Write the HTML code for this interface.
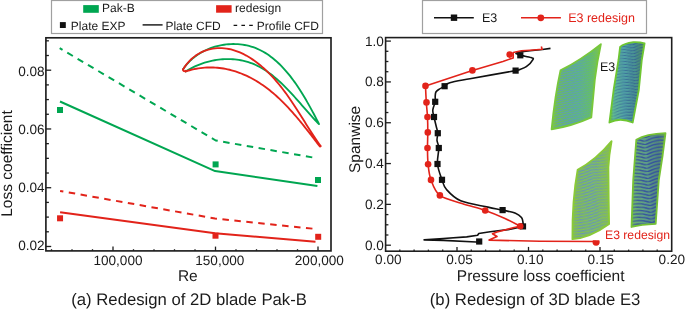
<!DOCTYPE html>
<html><head><meta charset="utf-8"><title>Figure</title>
<style>
html,body{margin:0;padding:0;background:#fff;}
body{width:685px;height:309px;overflow:hidden;}
svg{display:block;font-family:"Liberation Sans",sans-serif;text-rendering:geometricPrecision;-webkit-font-smoothing:antialiased;will-change:transform;}
</style></head><body>
<svg width="685" height="309" viewBox="0 0 685 309">
<rect x="51.5" y="0.5" width="271" height="33" fill="#fff" stroke="#a0a0a0" stroke-width="1.2"/>
<rect x="83.2" y="5.1" width="15.6" height="7.7" fill="#00a651"/>
<text x="102.10" y="12.20" font-size="12" fill="#1a1a1a" text-anchor="start" >Pak-B</text>
<rect x="216.1" y="5.2" width="15.5" height="7.5" fill="#e2231a"/>
<text x="235.10" y="12.20" font-size="12" fill="#1a1a1a" text-anchor="start" >redesign</text>
<rect x="59.9" y="22.1" width="5.9" height="5.9" fill="#111"/>
<text x="70.80" y="29.70" font-size="12" fill="#1a1a1a" text-anchor="start" >Plate EXP</text>
<line x1="142.6" y1="24.9" x2="162.6" y2="24.9" stroke="#111" stroke-width="1.4"/>
<text x="165.40" y="29.70" font-size="12" fill="#1a1a1a" text-anchor="start" >Plate CFD</text>
<line x1="233.6" y1="25.4" x2="254" y2="25.4" stroke="#111" stroke-width="1.4" stroke-dasharray="3.6 4.2"/>
<text x="256.80" y="29.70" font-size="12" fill="#1a1a1a" text-anchor="start" >Profile CFD</text>
<rect x="422.5" y="0.5" width="224" height="33" fill="#fff" stroke="#a0a0a0" stroke-width="1.2"/>
<line x1="434" y1="17.8" x2="473.8" y2="17.8" stroke="#111" stroke-width="1.4"/>
<rect x="450.8" y="14.5" width="6.4" height="6.4" fill="#111"/>
<text x="481.90" y="21.90" font-size="12.5" fill="#1a1a1a" text-anchor="start" >E3</text>
<line x1="521" y1="17.8" x2="560.9" y2="17.8" stroke="#e2231a" stroke-width="1.4"/>
<circle cx="540.8" cy="17.8" r="3.4" fill="#e2231a"/>
<text x="568.20" y="21.90" font-size="12.5" fill="#e2231a" text-anchor="start" >E3 redesign</text>
<g stroke="#1e1e1e" stroke-width="1.3"><line x1="45.90" y1="246.48" x2="51.20" y2="246.48"/><line x1="45.90" y1="231.79" x2="48.90" y2="231.79"/><line x1="45.90" y1="217.10" x2="48.90" y2="217.10"/><line x1="45.90" y1="202.41" x2="48.90" y2="202.41"/><line x1="45.90" y1="187.72" x2="51.20" y2="187.72"/><line x1="45.90" y1="173.03" x2="48.90" y2="173.03"/><line x1="45.90" y1="158.34" x2="48.90" y2="158.34"/><line x1="45.90" y1="143.65" x2="48.90" y2="143.65"/><line x1="45.90" y1="128.96" x2="51.20" y2="128.96"/><line x1="45.90" y1="114.27" x2="48.90" y2="114.27"/><line x1="45.90" y1="99.58" x2="48.90" y2="99.58"/><line x1="45.90" y1="84.89" x2="48.90" y2="84.89"/><line x1="45.90" y1="70.20" x2="51.20" y2="70.20"/><line x1="45.90" y1="55.51" x2="48.90" y2="55.51"/><line x1="45.90" y1="40.82" x2="48.90" y2="40.82"/><line x1="51.50" y1="250.90" x2="51.50" y2="249.20"/><line x1="72.00" y1="250.90" x2="72.00" y2="249.20"/><line x1="92.50" y1="250.90" x2="92.50" y2="249.20"/><line x1="113.00" y1="250.90" x2="113.00" y2="246.60"/><line x1="133.50" y1="250.90" x2="133.50" y2="249.20"/><line x1="154.00" y1="250.90" x2="154.00" y2="249.20"/><line x1="174.50" y1="250.90" x2="174.50" y2="249.20"/><line x1="195.00" y1="250.90" x2="195.00" y2="249.20"/><line x1="215.50" y1="250.90" x2="215.50" y2="246.60"/><line x1="236.00" y1="250.90" x2="236.00" y2="249.20"/><line x1="256.50" y1="250.90" x2="256.50" y2="249.20"/><line x1="277.00" y1="250.90" x2="277.00" y2="249.20"/><line x1="297.50" y1="250.90" x2="297.50" y2="249.20"/><line x1="318.00" y1="250.90" x2="318.00" y2="246.60"/></g>
<text x="44.60" y="76.00" font-size="13.6" fill="#1a1a1a" text-anchor="end" >0.08</text>
<text x="44.60" y="134.00" font-size="13.6" fill="#1a1a1a" text-anchor="end" >0.06</text>
<text x="44.60" y="192.00" font-size="13.6" fill="#1a1a1a" text-anchor="end" >0.04</text>
<text x="44.60" y="249.70" font-size="13.6" fill="#1a1a1a" text-anchor="end" >0.02</text>
<text x="117.95" y="265.00" font-size="13.6" fill="#1a1a1a" text-anchor="middle" >100,000</text>
<text x="219.80" y="265.00" font-size="13.6" fill="#1a1a1a" text-anchor="middle" >150,000</text>
<text x="319.35" y="265.00" font-size="13.6" fill="#1a1a1a" text-anchor="middle" >200,000</text>
<text x="187.85" y="280.90" font-size="15.5" fill="#1a1a1a" text-anchor="middle" >Re</text>
<text x="11.80" y="163.50" font-size="15.5" fill="#1a1a1a" text-anchor="middle" transform="rotate(-90 11.8 163.5)">Loss coefficient</text>
<text x="189.10" y="305.30" font-size="16.7" fill="#1a1a1a" text-anchor="middle" >(a) Redesign of 2D blade Pak-B</text>
<g fill="none" stroke-width="2" stroke-linejoin="round">
<path d="M60.00,101.50 L215.10,171.10 L317.40,186.10" stroke="#00a651"/>
<path d="M59.70,48.20 L215.70,140.50 L317.00,158.20" stroke="#00a651" stroke-dasharray="6.5 5.5" stroke-dashoffset="3.2"/>
<path d="M60.10,212.30 L215.00,233.20 L315.50,241.70" stroke="#e2231a"/>
<path d="M60.10,190.90 L215.00,218.50 L316.00,229.00" stroke="#e2231a" stroke-dasharray="6.5 5.5" stroke-dashoffset="3.2"/>
</g>
<rect x="57.00" y="107.00" width="6" height="6" fill="#00a651"/>
<rect x="212.60" y="161.40" width="6" height="6" fill="#00a651"/>
<rect x="315.00" y="177.00" width="6" height="6" fill="#00a651"/>
<rect x="57.05" y="215.30" width="6" height="6" fill="#e2231a"/>
<rect x="212.50" y="232.70" width="6" height="6" fill="#e2231a"/>
<rect x="315.20" y="233.80" width="6" height="6" fill="#e2231a"/>
<g fill="none" stroke-width="1.85" stroke-linejoin="round" stroke-linecap="round">
<path d="M183.23,69.04 L184.58,67.12 L186.01,65.28 L187.51,63.51 L189.10,61.81 L190.75,60.19 L192.48,58.65 L194.27,57.18 L196.12,55.78 L198.03,54.47 L199.99,53.23 L202.00,52.07 L204.06,50.98 L206.15,49.98 L208.29,49.05 L210.46,48.19 L212.66,47.42 L214.89,46.73 L217.15,46.11 L219.42,45.58 L221.71,45.12 L224.01,44.74 L226.31,44.45 L228.63,44.23 L230.94,44.09 L233.25,44.04 L235.55,44.06 L237.84,44.17 L240.12,44.36 L242.38,44.63 L244.61,44.98 L246.83,45.42 L249.01,45.94 L251.16,46.54 L253.27,47.22 L255.35,47.98 L257.39,48.82 L259.40,49.74 L261.37,50.72 L263.32,51.78 L265.23,52.90 L267.10,54.09 L268.95,55.34 L270.76,56.66 L272.54,58.03 L274.30,59.45 L276.02,60.93 L277.71,62.46 L279.37,64.03 L281.01,65.65 L282.61,67.32 L284.19,69.02 L285.74,70.76 L287.26,72.54 L288.76,74.35 L290.23,76.20 L291.67,78.07 L293.09,79.97 L294.48,81.89 L295.85,83.83 L297.19,85.79 L298.51,87.76 L299.81,89.75 L301.08,91.75 L302.33,93.76 L303.56,95.78 L304.77,97.80 L305.96,99.82 L307.13,101.84 L308.27,103.86 L309.40,105.87 L310.50,107.88 L311.59,109.87 L312.66,111.85 L313.71,113.81 L314.74,115.76 L315.76,117.68 L316.76,119.58 L317.74,121.46 L318.71,123.31 L318.97,124.11 L317.66,122.77 L316.35,121.40 L315.03,120.01 L313.72,118.59 L312.40,117.15 L311.08,115.68 L309.76,114.20 L308.44,112.71 L307.10,111.19 L305.77,109.67 L304.43,108.13 L303.08,106.59 L301.73,105.04 L300.37,103.48 L299.01,101.93 L297.63,100.37 L296.25,98.81 L294.86,97.25 L293.46,95.70 L292.05,94.16 L290.63,92.62 L289.20,91.10 L287.76,89.59 L286.30,88.09 L284.84,86.61 L283.36,85.14 L281.87,83.70 L280.36,82.28 L278.84,80.89 L277.30,79.52 L275.75,78.18 L274.19,76.87 L272.60,75.59 L271.00,74.34 L269.39,73.13 L267.75,71.96 L266.10,70.83 L264.43,69.74 L262.73,68.70 L261.02,67.70 L259.29,66.75 L257.54,65.84 L255.76,64.99 L253.97,64.19 L252.15,63.45 L250.31,62.77 L248.44,62.14 L246.55,61.57 L244.65,61.07 L242.72,60.62 L240.77,60.22 L238.81,59.89 L236.84,59.62 L234.85,59.40 L232.85,59.24 L230.85,59.13 L228.83,59.08 L226.81,59.09 L224.78,59.15 L222.75,59.26 L220.72,59.44 L218.69,59.66 L216.66,59.94 L214.63,60.27 L212.61,60.66 L210.59,61.10 L208.58,61.59 L206.59,62.13 L204.60,62.73 L202.62,63.37 L200.66,64.07 L198.72,64.82 L196.79,65.62 L194.88,66.47 L192.99,67.36 L191.13,68.31 L189.29,69.31 L187.47,70.35 L185.68,71.45" stroke="#00a651"/>
<path d="M182.93,69.53 L184.48,67.13 L186.11,64.88 L187.82,62.78 L189.61,60.83 L191.47,59.03 L193.40,57.38 L195.38,55.87 L197.42,54.50 L199.51,53.27 L201.64,52.17 L203.82,51.21 L206.02,50.39 L208.26,49.69 L210.52,49.12 L212.79,48.68 L215.08,48.37 L217.38,48.18 L219.68,48.10 L221.98,48.15 L224.28,48.31 L226.56,48.59 L228.82,48.98 L231.07,49.47 L233.30,50.07 L235.52,50.76 L237.71,51.55 L239.88,52.43 L242.04,53.40 L244.17,54.45 L246.28,55.57 L248.36,56.77 L250.42,58.04 L252.45,59.37 L254.45,60.77 L256.43,62.22 L258.38,63.72 L260.29,65.28 L262.17,66.87 L264.02,68.51 L265.84,70.19 L267.62,71.90 L269.37,73.63 L271.08,75.39 L272.75,77.17 L274.39,78.98 L276.00,80.80 L277.57,82.65 L279.12,84.51 L280.63,86.39 L282.12,88.28 L283.59,90.19 L285.03,92.12 L286.44,94.06 L287.84,96.01 L289.22,97.97 L290.58,99.95 L291.93,101.93 L293.26,103.93 L294.58,105.93 L295.89,107.94 L297.19,109.95 L298.48,111.97 L299.76,113.99 L301.04,116.02 L302.31,118.05 L303.59,120.08 L304.86,122.11 L306.14,124.14 L307.42,126.17 L308.70,128.19 L309.99,130.21 L311.29,132.23 L312.59,134.24 L313.91,136.25 L315.24,138.25 L316.58,140.24 L317.94,142.22 L319.31,144.19 L320.71,146.15 L319.88,146.55 L318.66,144.97 L317.44,143.37 L316.21,141.77 L314.97,140.16 L313.73,138.54 L312.48,136.91 L311.22,135.28 L309.95,133.65 L308.67,132.00 L307.39,130.36 L306.09,128.72 L304.79,127.07 L303.48,125.43 L302.15,123.78 L300.82,122.14 L299.47,120.51 L298.11,118.88 L296.75,117.25 L295.37,115.64 L293.97,114.03 L292.57,112.43 L291.15,110.84 L289.72,109.27 L288.27,107.70 L286.81,106.15 L285.34,104.62 L283.85,103.10 L282.35,101.60 L280.83,100.12 L279.30,98.65 L277.75,97.21 L276.18,95.79 L274.60,94.39 L273.00,93.02 L271.38,91.67 L269.74,90.34 L268.09,89.05 L266.42,87.78 L264.73,86.54 L263.02,85.33 L261.30,84.15 L259.56,83.01 L257.80,81.89 L256.02,80.81 L254.23,79.77 L252.43,78.76 L250.60,77.79 L248.77,76.85 L246.91,75.95 L245.04,75.10 L243.16,74.28 L241.26,73.50 L239.35,72.77 L237.42,72.08 L235.48,71.43 L233.53,70.83 L231.56,70.28 L229.58,69.77 L227.58,69.31 L225.58,68.89 L223.55,68.53 L221.52,68.22 L219.48,67.96 L217.42,67.75 L215.35,67.60 L213.27,67.50 L211.18,67.45 L209.08,67.46 L206.96,67.53 L204.84,67.66 L202.70,67.84 L200.56,68.09 L198.40,68.40 L196.24,68.77 L194.06,69.20 L191.88,69.69 L189.69,70.25 L187.49,70.88 L185.28,71.57" stroke="#e2231a"/>
<path d="M185.7,70.8 C183.8,71.6 182.4,70.6 183.4,68.9" stroke="#e2231a"/>
</g>
<rect x="45.90" y="37.80" width="285.10" height="213.10" fill="none" stroke="#1e1e1e" stroke-width="1.65"/>
<g stroke="#1e1e1e" stroke-width="1.3"><line x1="385.60" y1="245.20" x2="390.90" y2="245.20"/><line x1="385.60" y1="234.99" x2="388.40" y2="234.99"/><line x1="385.60" y1="224.79" x2="388.40" y2="224.79"/><line x1="385.60" y1="214.58" x2="388.40" y2="214.58"/><line x1="385.60" y1="204.38" x2="390.90" y2="204.38"/><line x1="385.60" y1="194.17" x2="388.40" y2="194.17"/><line x1="385.60" y1="183.97" x2="388.40" y2="183.97"/><line x1="385.60" y1="173.76" x2="388.40" y2="173.76"/><line x1="385.60" y1="163.56" x2="390.90" y2="163.56"/><line x1="385.60" y1="153.35" x2="388.40" y2="153.35"/><line x1="385.60" y1="143.15" x2="388.40" y2="143.15"/><line x1="385.60" y1="132.94" x2="388.40" y2="132.94"/><line x1="385.60" y1="122.74" x2="390.90" y2="122.74"/><line x1="385.60" y1="112.53" x2="388.40" y2="112.53"/><line x1="385.60" y1="102.33" x2="388.40" y2="102.33"/><line x1="385.60" y1="92.12" x2="388.40" y2="92.12"/><line x1="385.60" y1="81.92" x2="390.90" y2="81.92"/><line x1="385.60" y1="71.71" x2="388.40" y2="71.71"/><line x1="385.60" y1="61.51" x2="388.40" y2="61.51"/><line x1="385.60" y1="51.30" x2="388.40" y2="51.30"/><line x1="385.60" y1="41.10" x2="390.90" y2="41.10"/><line x1="399.80" y1="251.20" x2="399.80" y2="249.60"/><line x1="414.10" y1="251.20" x2="414.10" y2="249.60"/><line x1="428.40" y1="251.20" x2="428.40" y2="249.60"/><line x1="442.70" y1="251.20" x2="442.70" y2="249.60"/><line x1="457.00" y1="251.20" x2="457.00" y2="246.90"/><line x1="471.30" y1="251.20" x2="471.30" y2="249.60"/><line x1="485.60" y1="251.20" x2="485.60" y2="249.60"/><line x1="499.90" y1="251.20" x2="499.90" y2="249.60"/><line x1="514.20" y1="251.20" x2="514.20" y2="249.60"/><line x1="528.50" y1="251.20" x2="528.50" y2="246.90"/><line x1="542.80" y1="251.20" x2="542.80" y2="249.60"/><line x1="557.10" y1="251.20" x2="557.10" y2="249.60"/><line x1="571.40" y1="251.20" x2="571.40" y2="249.60"/><line x1="585.70" y1="251.20" x2="585.70" y2="249.60"/><line x1="600.00" y1="251.20" x2="600.00" y2="246.90"/><line x1="614.30" y1="251.20" x2="614.30" y2="249.60"/><line x1="628.60" y1="251.20" x2="628.60" y2="249.60"/><line x1="642.90" y1="251.20" x2="642.90" y2="249.60"/><line x1="657.20" y1="251.20" x2="657.20" y2="249.60"/></g>
<text x="383.80" y="45.60" font-size="13.6" fill="#1a1a1a" text-anchor="end" >1.0</text>
<text x="383.80" y="86.42" font-size="13.6" fill="#1a1a1a" text-anchor="end" >0.8</text>
<text x="383.80" y="127.24" font-size="13.6" fill="#1a1a1a" text-anchor="end" >0.6</text>
<text x="383.80" y="168.06" font-size="13.6" fill="#1a1a1a" text-anchor="end" >0.4</text>
<text x="383.80" y="208.88" font-size="13.6" fill="#1a1a1a" text-anchor="end" >0.2</text>
<text x="383.80" y="249.70" font-size="13.6" fill="#1a1a1a" text-anchor="end" >0.0</text>
<text x="375.10" y="264.00" font-size="13.6" fill="#1a1a1a" text-anchor="start" >0.00</text>
<text x="446.30" y="264.00" font-size="13.6" fill="#1a1a1a" text-anchor="start" >0.05</text>
<text x="517.00" y="264.00" font-size="13.6" fill="#1a1a1a" text-anchor="start" >0.10</text>
<text x="587.60" y="264.00" font-size="13.6" fill="#1a1a1a" text-anchor="start" >0.15</text>
<text x="658.60" y="264.00" font-size="13.6" fill="#1a1a1a" text-anchor="start" >0.20</text>
<text x="456.80" y="280.90" font-size="15.5" fill="#1a1a1a" text-anchor="start" >Pressure loss coefficient</text>
<text x="359.70" y="173.00" font-size="15.5" fill="#1a1a1a" text-anchor="start" transform="rotate(-90 359.7 173.0)">Spanwise</text>
<text x="429.80" y="305.30" font-size="16.7" fill="#1a1a1a" text-anchor="start" >(b) Redesign of 3D blade E3</text>
<defs><linearGradient id="g1" gradientUnits="userSpaceOnUse" x1="551" y1="0" x2="601" y2="0"><stop offset="0" stop-color="#86cc38"/><stop offset="0.1" stop-color="#74c446"/><stop offset="0.3" stop-color="#66ba6e"/><stop offset="0.55" stop-color="#60b880"/><stop offset="0.8" stop-color="#66c066"/><stop offset="1" stop-color="#7cc842"/></linearGradient><linearGradient id="m1g" gradientUnits="userSpaceOnUse" x1="551" y1="0" x2="601" y2="0"><stop offset="0" stop-color="#fff" stop-opacity="0.1"/><stop offset="0.15" stop-color="#fff" stop-opacity="0.75"/><stop offset="0.45" stop-color="#fff" stop-opacity="0.7"/><stop offset="0.75" stop-color="#fff" stop-opacity="0.3"/><stop offset="1" stop-color="#fff" stop-opacity="0.05"/></linearGradient><mask id="m1" maskUnits="userSpaceOnUse" x="0" y="0" width="685" height="309"><rect width="685" height="309" fill="url(#m1g)"/></mask><pattern id="p1" width="8" height="2.4" patternUnits="userSpaceOnUse" patternTransform="rotate(-14)"><rect y="0" width="8" height="1.0" fill="#5a8ed8"/></pattern><linearGradient id="g2" gradientUnits="userSpaceOnUse" x1="610" y1="0" x2="645" y2="0"><stop offset="0" stop-color="#70c434"/><stop offset="0.1" stop-color="#60b894"/><stop offset="0.4" stop-color="#52a4a8"/><stop offset="0.72" stop-color="#488f90"/><stop offset="0.9" stop-color="#4f9468"/><stop offset="1" stop-color="#6cc232"/></linearGradient><linearGradient id="m2g" gradientUnits="userSpaceOnUse" x1="610" y1="0" x2="645" y2="0"><stop offset="0" stop-color="#fff" stop-opacity="0.2"/><stop offset="0.2" stop-color="#fff" stop-opacity="0.5"/><stop offset="0.6" stop-color="#fff" stop-opacity="0.8"/><stop offset="0.9" stop-color="#fff" stop-opacity="0.8"/><stop offset="1" stop-color="#fff" stop-opacity="0.2"/></linearGradient><mask id="m2" maskUnits="userSpaceOnUse" x="0" y="0" width="685" height="309"><rect width="685" height="309" fill="url(#m2g)"/></mask><pattern id="p2" width="26" height="3.0" patternUnits="userSpaceOnUse" patternTransform="rotate(-6)"><path d="M0,3.00 Q13.00,-3.00 26.00,3.00" fill="none" stroke="#2f5a92" stroke-width="1.0"/><path d="M0,3.00 Q13.00,-3.00 26.00,3.00" transform="translate(0,3.0)" fill="none" stroke="#2f5a92" stroke-width="1.0"/></pattern><linearGradient id="g3" gradientUnits="userSpaceOnUse" x1="572" y1="0" x2="612" y2="0"><stop offset="0" stop-color="#88c83a"/><stop offset="0.15" stop-color="#86c44a"/><stop offset="0.5" stop-color="#80c060"/><stop offset="0.85" stop-color="#88c44a"/><stop offset="1" stop-color="#8ec83a"/></linearGradient><linearGradient id="m3g" gradientUnits="userSpaceOnUse" x1="572" y1="0" x2="612" y2="0"><stop offset="0" stop-color="#fff" stop-opacity="0.2"/><stop offset="0.2" stop-color="#fff" stop-opacity="0.8"/><stop offset="0.6" stop-color="#fff" stop-opacity="0.7"/><stop offset="1" stop-color="#fff" stop-opacity="0.2"/></linearGradient><mask id="m3" maskUnits="userSpaceOnUse" x="0" y="0" width="685" height="309"><rect width="685" height="309" fill="url(#m3g)"/></mask><pattern id="p3" width="34" height="2.8" patternUnits="userSpaceOnUse" patternTransform="rotate(-12)"><path d="M0,-2.00 Q17.00,2.00 34.00,-2.00" fill="none" stroke="#5f86d6" stroke-width="1.0"/><path d="M0,-2.00 Q17.00,2.00 34.00,-2.00" transform="translate(0,2.8)" fill="none" stroke="#5f86d6" stroke-width="1.0"/></pattern><linearGradient id="g4" gradientUnits="userSpaceOnUse" x1="630" y1="0" x2="666" y2="0"><stop offset="0" stop-color="#78c234"/><stop offset="0.12" stop-color="#6cb070"/><stop offset="0.45" stop-color="#5f9e88"/><stop offset="0.8" stop-color="#52867a"/><stop offset="1" stop-color="#70b048"/></linearGradient><linearGradient id="m4g" gradientUnits="userSpaceOnUse" x1="630" y1="0" x2="666" y2="0"><stop offset="0" stop-color="#fff" stop-opacity="0.3"/><stop offset="0.2" stop-color="#fff" stop-opacity="0.9"/><stop offset="0.6" stop-color="#fff" stop-opacity="1"/><stop offset="0.9" stop-color="#fff" stop-opacity="0.9"/><stop offset="1" stop-color="#fff" stop-opacity="0.3"/></linearGradient><mask id="m4" maskUnits="userSpaceOnUse" x="0" y="0" width="685" height="309"><rect width="685" height="309" fill="url(#m4g)"/></mask><pattern id="p4" width="30" height="3.4" patternUnits="userSpaceOnUse" patternTransform="rotate(-5)"><path d="M0,3.40 Q15.00,-3.40 30.00,3.40" fill="none" stroke="#34519e" stroke-width="1.4"/><path d="M0,3.40 Q15.00,-3.40 30.00,3.40" transform="translate(0,3.4)" fill="none" stroke="#34519e" stroke-width="1.4"/></pattern></defs>
<path d="M560.5,70.4 Q581,60 600.9,44.1 Q597,62 594.8,80 L591.3,117.4 Q571,126.5 551.6,129.3 Q555,95 560.5,70.4Z" fill="url(#g1)"/>
<path d="M560.5,70.4 Q581,60 600.9,44.1 Q597,62 594.8,80 L591.3,117.4 Q571,126.5 551.6,129.3 Q555,95 560.5,70.4Z" fill="url(#p1)" mask="url(#m1)"/>
<path d="M560.5,70.4 Q581,60 600.9,44.1 Q597,62 594.8,80 L591.3,117.4 Q571,126.5 551.6,129.3 Q555,95 560.5,70.4Z" fill="none" stroke="#78c83a" stroke-width="1.8" stroke-linejoin="round"/>
<path d="M620.1,46.9 Q624,43.5 633.3,42.2 Q640,42 644.6,43.4 L641.8,60 L638.8,90 L632.7,122.5 Q620,117 609.4,122.5 L613.6,90 L618.5,60Z" fill="url(#g2)"/>
<path d="M620.1,46.9 Q624,43.5 633.3,42.2 Q640,42 644.6,43.4 L641.8,60 L638.8,90 L632.7,122.5 Q620,117 609.4,122.5 L613.6,90 L618.5,60Z" fill="url(#p2)" mask="url(#m2)"/>
<path d="M620.1,46.9 Q624,43.5 633.3,42.2 Q640,42 644.6,43.4 L641.8,60 L638.8,90 L632.7,122.5 Q620,117 609.4,122.5 L613.6,90 L618.5,60Z" fill="none" stroke="#6ec632" stroke-width="1.8" stroke-linejoin="round"/>
<path d="M577.6,169.8 Q596,160 611.6,141.1 Q609,155 608.4,167.4 L608.7,200 L609.1,224.1 Q590,238 572.4,239.2 Q572,200 577.6,169.8Z" fill="url(#g3)"/>
<path d="M577.6,169.8 Q596,160 611.6,141.1 Q609,155 608.4,167.4 L608.7,200 L609.1,224.1 Q590,238 572.4,239.2 Q572,200 577.6,169.8Z" fill="url(#p3)" mask="url(#m3)"/>
<path d="M577.6,169.8 Q596,160 611.6,141.1 Q609,155 608.4,167.4 L608.7,200 L609.1,224.1 Q590,238 572.4,239.2 Q572,200 577.6,169.8Z" fill="none" stroke="#8aca36" stroke-width="1.8" stroke-linejoin="round"/>
<path d="M636.3,139.7 Q646,134 665.5,133.2 L662.7,155 L658.8,180 L655.7,223.9 Q641,224.5 631.5,227 L633.2,180Z" fill="url(#g4)"/>
<path d="M636.3,139.7 Q646,134 665.5,133.2 L662.7,155 L658.8,180 L655.7,223.9 Q641,224.5 631.5,227 L633.2,180Z" fill="url(#p4)" mask="url(#m4)"/>
<path d="M636.3,139.7 Q646,134 665.5,133.2 L662.7,155 L658.8,180 L655.7,223.9 Q641,224.5 631.5,227 L633.2,180Z" fill="none" stroke="#76c234" stroke-width="1.8" stroke-linejoin="round"/>
<text x="599.90" y="70.80" font-size="12.5" fill="#1a1a1a" text-anchor="start" >E3</text>
<text x="605.00" y="238.90" font-size="12.2" fill="#e2231a" text-anchor="start" >E3 redesign</text>
<path d="M550.50,48.40 L542.50,49.50 L530.00,50.80 L518.00,52.30 L516.00,53.50 L520.30,55.30 L523.50,55.90 L523.50,55.90 C524.75,56.18 529.40,57.03 531.00,57.60 C532.60,58.17 533.88,57.80 533.10,59.30 C532.32,60.80 528.65,64.87 526.30,66.60 C523.95,68.33 520.78,69.03 519.00,69.70 C517.22,70.37 523.77,69.10 515.60,70.60 C507.43,72.10 480.97,76.68 470.00,78.70 C459.03,80.72 454.03,81.45 449.80,82.70 C445.57,83.95 446.35,85.13 444.60,86.20 C442.85,87.27 440.75,88.13 439.30,89.10 C437.85,90.07 436.58,90.78 435.90,92.00 C435.22,93.22 435.32,94.77 435.20,96.40 C435.08,98.03 435.60,99.53 435.20,101.80 C434.80,104.07 433.00,107.47 432.80,110.00 C432.60,112.53 433.35,113.95 434.00,117.00 C434.65,120.05 436.07,125.60 436.70,128.30 C437.33,131.00 437.75,131.17 437.80,133.20 C437.85,135.23 436.83,138.03 437.00,140.50 C437.17,142.97 438.72,144.08 438.80,148.00 C438.88,151.92 436.97,158.70 437.50,164.00 C438.03,169.30 440.50,175.55 442.00,179.80 C443.50,184.05 443.38,186.00 446.50,189.50 C449.62,193.00 453.80,197.87 460.70,200.80 C467.60,203.73 480.92,205.55 487.90,207.10 C494.88,208.65 498.00,209.08 502.60,210.10 C507.20,211.12 512.35,211.97 515.50,213.20 C518.65,214.43 520.25,215.95 521.50,217.50 C522.75,219.05 522.75,221.02 523.00,222.50 C523.25,223.98 523.00,225.75 523.00,226.40 L523.00,226.40 L510.50,229.30 L490.10,231.70 L478.80,233.50 L477.60,235.30 L466.70,236.90 L443.40,238.50 L424.10,239.90 L424.10,239.90 L443.40,240.40 L476.10,242.00 L479.20,241.80" fill="none" stroke="#111" stroke-width="1.6" stroke-linejoin="round"/>
<rect x="517.20" y="52.20" width="6.2" height="6.2" fill="#111"/>
<rect x="512.50" y="67.50" width="6.2" height="6.2" fill="#111"/>
<rect x="441.50" y="83.10" width="6.2" height="6.2" fill="#111"/>
<rect x="432.10" y="98.70" width="6.2" height="6.2" fill="#111"/>
<rect x="430.90" y="113.90" width="6.2" height="6.2" fill="#111"/>
<rect x="434.70" y="130.10" width="6.2" height="6.2" fill="#111"/>
<rect x="435.70" y="144.90" width="6.2" height="6.2" fill="#111"/>
<rect x="434.40" y="160.90" width="6.2" height="6.2" fill="#111"/>
<rect x="438.90" y="176.70" width="6.2" height="6.2" fill="#111"/>
<rect x="499.50" y="207.00" width="6.2" height="6.2" fill="#111"/>
<rect x="519.90" y="223.30" width="6.2" height="6.2" fill="#111"/>
<rect x="476.10" y="238.40" width="6.2" height="6.2" fill="#111"/>
<path d="M541.30,46.40 L542.20,49.20 L530.00,50.20 L521.40,50.80 L513.20,52.50 L513.20,57.90 L502.90,61.40 L472.40,70.40 L425.50,85.90 L425.50,85.90 C425.63,88.65 425.97,97.22 426.30,102.40 C426.63,107.58 427.25,112.00 427.50,117.00 C427.75,122.00 427.80,127.23 427.80,132.40 C427.80,137.57 427.45,142.68 427.50,148.00 C427.55,153.32 427.52,158.98 428.10,164.30 C428.68,169.62 429.03,174.72 431.00,179.90 C432.97,185.08 434.73,191.47 439.90,195.40 C445.07,199.33 454.45,200.98 462.00,203.50 C469.55,206.02 478.03,208.00 485.20,210.50 C492.37,213.00 499.17,215.87 505.00,218.50 C510.83,221.13 517.67,225.00 520.20,226.30 L520.20,226.30 L514.00,227.50 L497.00,232.00 L492.50,233.70 L497.00,236.50 L489.10,240.10 L540.00,241.30 L596.10,241.50" fill="none" stroke="#e2231a" stroke-width="1.6" stroke-linejoin="round"/>
<circle cx="509.70" cy="54.60" r="3.3" fill="#e2231a"/>
<circle cx="472.40" cy="70.40" r="3.3" fill="#e2231a"/>
<circle cx="425.50" cy="85.90" r="3.3" fill="#e2231a"/>
<circle cx="426.50" cy="102.40" r="3.3" fill="#e2231a"/>
<circle cx="427.50" cy="117.00" r="3.3" fill="#e2231a"/>
<circle cx="427.80" cy="132.40" r="3.3" fill="#e2231a"/>
<circle cx="427.50" cy="148.00" r="3.3" fill="#e2231a"/>
<circle cx="428.10" cy="164.30" r="3.3" fill="#e2231a"/>
<circle cx="431.00" cy="179.90" r="3.3" fill="#e2231a"/>
<circle cx="439.90" cy="195.40" r="3.3" fill="#e2231a"/>
<circle cx="485.20" cy="210.50" r="3.3" fill="#e2231a"/>
<circle cx="520.20" cy="226.30" r="3.3" fill="#e2231a"/>
<clipPath id="hc"><rect x="588" y="240.3" width="16" height="8"/></clipPath>
<circle cx="596.1" cy="242.1" r="3.6" fill="#e2231a" clip-path="url(#hc)"/>
<rect x="385.60" y="37.60" width="286.10" height="213.60" fill="none" stroke="#1e1e1e" stroke-width="1.6"/>
</svg>
</body></html>
